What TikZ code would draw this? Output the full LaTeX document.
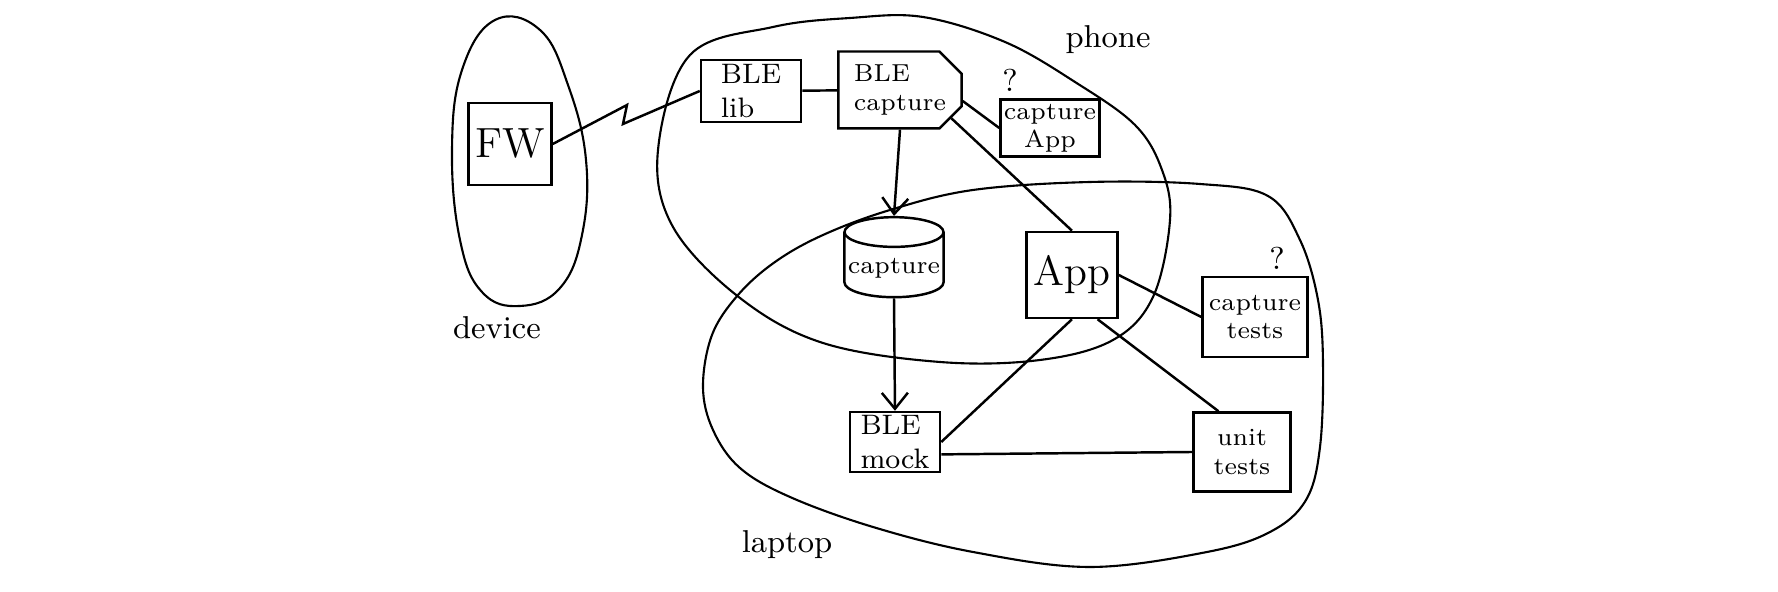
\documentclass[tikz,border=0pt]{standalone}
\usetikzlibrary{shapes.geometric,shapes.misc,arrows.meta}

\begin{document}
\begin{tikzpicture}[x=0.01cm, y=-0.01cm, >={Straight Barb[length=1.6mm,width=2.6mm]},
        line width=0.7pt,
        box/.style={draw, rectangle, align=left, inner sep=1pt, font=\footnotesize},
        region/.style={line width=0.6pt},
        lbl/.style={font=\small}]
        \useasboundingbox (0,0) rectangle (1778,592);
        % ==== REGIONS ====
        \draw[region] plot[smooth cycle, tension=0.7] coordinates {(452,150) (462,70) (495,20) (540,30) (568,85) (586,160) (582,235) (560,288) (520,306) (482,292) (460,240)};
        \draw[region] plot[smooth cycle, tension=0.6] coordinates {(658,150) (673,227) (740,298) (823,343) (940,362) (1040,360) (1113,340) (1153,297) (1170,220) (1162,170) (1135,125) (1075,82) (1005,42) (923,17) (850,18) (773,27) (690,55)};
        \draw[region] plot[smooth cycle, tension=0.6] coordinates {(703,387) (712,335) (738,295) (775,262) (823,235) (890,210) (973,190) (1090,182) (1200,184) (1268,196) (1300,240) (1318,300) (1323,363) (1320,447) (1306,500) (1270,532) (1207,552) (1090,567) (973,552) (873,527) (790,497) (740,468) (713,430)};
        \node[lbl] (devlbl) at (497,328) {device};
        \node[lbl] (phonelbl) at (1108,40) {phone};
        \node[lbl] (laplbl) at (787,545) {laptop};
        % ==== BOXES ====
        \node[box, font=\large, minimum width=0.83cm, minimum height=0.82cm] (fw) at (510,144) {FW};
        \node[box, minimum width=1.0cm, minimum height=0.62cm] (blelib) at (751,91) {BLE\\lib};
        \node[box, font=\scriptsize, chamfered rectangle, chamfered rectangle corners={north east,south east},
              chamfered rectangle xsep=0.12cm, minimum width=0.92cm, minimum height=0.6cm] (blecap) at (900,90) {BLE\\capture};
        \node[box, font=\scriptsize, align=center, minimum width=0.75cm, minimum height=0.57cm] (capapp) at (1050,128) {capture\\App};
        \node[lbl] (q1) at (1010,80) {?};
        \node[draw, cylinder, shape border rotate=90, aspect=0.3, font=\scriptsize,
              minimum width=0.95cm, minimum height=0.8cm, inner sep=1pt] (capstore) at (894,268) {capture};
        \node[box, font=\large, minimum width=0.91cm, minimum height=0.86cm] (app) at (1072,275) {App};
        \node[box, font=\scriptsize, align=center, minimum width=1.05cm, minimum height=0.8cm] (captests) at (1255,317) {capture\\tests};
        \node[lbl] (q2) at (1277,258) {?};
        \node[box, minimum width=0.9cm, minimum height=0.59cm] (blemock) at (895,442) {BLE\\mock};
        \node[box, font=\scriptsize, align=center, minimum width=0.97cm, minimum height=0.79cm] (unittests) at (1242,452) {unit\\tests};
        % ==== CONNECTIONS ====
        \coordinate (zigA) at (627,105);
        \coordinate (zigB) at (623,124);
        \draw (fw.east) -- (zigA) -- (zigB) -- (blelib.west);
        \draw (blelib) -- (blecap);
        \draw (blecap.-10) -- (capapp.west);
        \draw[->] (blecap.south) -- (capstore.north);
        \draw[->] (capstore.south) -- (blemock.north);
        \draw (blecap.south east) -- (app.north);
        \draw (app.east) -- (captests.west);
        \draw (app.south) -- (blemock.east);
        \draw (app.300) -- (unittests.120);
        \draw (blemock.-15) -- (unittests.west);
\end{tikzpicture}
\end{document}
